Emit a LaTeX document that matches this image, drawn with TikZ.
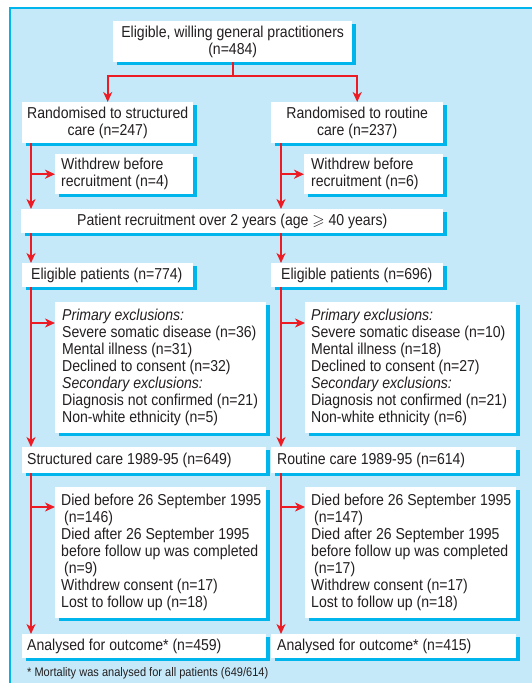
\documentclass[tikz,border=0pt]{standalone}
\usepackage{amssymb}
\usepackage{fontspec}
\setmainfont{Liberation Sans}[FakeStretch=0.89]
\usetikzlibrary{arrows.meta,shadows}
\definecolor{panelblue}{RGB}{198,233,249}
\definecolor{bmjcyan}{RGB}{0,181,236}
\definecolor{bmjred}{RGB}{237,28,36}
\definecolor{ink}{RGB}{35,31,32}

\begin{document}
\begin{tikzpicture}[x=1pt, y=-1pt,
    box/.style={fill=white, anchor=north west, inner sep=0pt,
      drop shadow={shadow xshift=4pt, shadow yshift=-3pt, fill=bmjcyan, opacity=1}},
    boxtext/.style={inner sep=0pt, text=ink, font=\fontsize{15.8}{17}\selectfont},
    flow/.style={draw=bmjred, line width=1.9pt, -{Stealth[length=10pt, width=9pt, inset=3pt]}}]
        \useasboundingbox (0,0) rectangle (532,683);

        % Background panel
        \fill[panelblue] (10,8) rectangle (532,683);
        \draw[bmjcyan, line width=1.5pt] (10,683) -- (10,8) -- (532,8);

        % Boxes (top-left corner, size in px)
        \node[box, minimum width=239pt, minimum height=41pt] (gp) at (113,21) {};
        \node[box, minimum width=171pt, minimum height=41pt] (rand_s) at (22,102) {};
        \node[box, minimum width=172pt, minimum height=41pt] (rand_r) at (271,102) {};
        \node[box, minimum width=138pt, minimum height=40pt] (wd_s) at (55,154) {};
        \node[box, minimum width=139pt, minimum height=40pt] (wd_r) at (304,154) {};
        \node[box, minimum width=422pt, minimum height=24pt] (recruit) at (21,209) {};
        \node[box, minimum width=171pt, minimum height=24pt] (elig_s) at (22,263) {};
        \node[box, minimum width=172pt, minimum height=24pt] (elig_r) at (271,263) {};
        \node[box, minimum width=211pt, minimum height=131pt] (excl_s) at (55,302) {};
        \node[box, minimum width=211pt, minimum height=131pt] (excl_r) at (305,302) {};
        \node[box, minimum width=244pt, minimum height=26pt] (care_s) at (22,447) {};
        \node[box, minimum width=245pt, minimum height=26pt] (care_r) at (271,447) {};
        \node[box, minimum width=211pt, minimum height=131pt] (died_s) at (55,487) {};
        \node[box, minimum width=211pt, minimum height=131pt] (died_r) at (305,487) {};
        \node[box, minimum width=244pt, minimum height=24pt] (out_s) at (22,634) {};
        \node[box, minimum width=245pt, minimum height=24pt] (out_r) at (271,634) {};

        % Texts
        \node[boxtext, align=center] (gp_txt) at (gp.center) {Eligible, willing general practitioners\\(n=484)};
        \node[boxtext, align=center] (rand_s_txt) at (rand_s.center) {Randomised to structured\\care (n=247)};
        \node[boxtext, align=center] (rand_r_txt) at (rand_r.center) {Randomised to routine\\care (n=237)};
        \node[boxtext, align=left, anchor=west] (wd_s_txt) at ([xshift=6pt]wd_s.west) {Withdrew before\\recruitment (n=4)};
        \node[boxtext, align=left, anchor=west] (wd_r_txt) at ([xshift=7pt]wd_r.west) {Withdrew before\\recruitment (n=6)};
        \node[boxtext] (recruit_txt) at (recruit.center) {Patient recruitment over 2 years (age $\geqslant$ 40 years)};
        \node[boxtext, anchor=west] (elig_s_txt) at ([xshift=9pt]elig_s.west) {Eligible patients (n=774)};
        \node[boxtext, anchor=west] (elig_r_txt) at ([xshift=10pt]elig_r.west) {Eligible patients (n=696)};
        \node[boxtext, align=left, anchor=west] (excl_s_txt) at ([xshift=7pt]excl_s.west)
          {\textit{Primary exclusions:}\\Severe somatic disease (n=36)\\Mental illness (n=31)\\Declined to consent (n=32)\\
           \textit{Secondary exclusions:}\\Diagnosis not confirmed (n=21)\\Non-white ethnicity (n=5)};
        \node[boxtext, align=left, anchor=west] (excl_r_txt) at ([xshift=6pt]excl_r.west)
          {\textit{Primary exclusions:}\\Severe somatic disease (n=10)\\Mental illness (n=18)\\Declined to consent (n=27)\\
           \textit{Secondary exclusions:}\\Diagnosis not confirmed (n=21)\\Non-white ethnicity (n=6)};
        \node[boxtext, anchor=west] (care_s_txt) at ([xshift=5pt]care_s.west) {Structured care 1989-95 (n=649)};
        \node[boxtext, anchor=west] (care_r_txt) at ([xshift=6pt]care_r.west) {Routine care 1989-95 (n=614)};
        \node[boxtext, align=left, anchor=west] (died_s_txt) at ([xshift=6pt]died_s.west)
          {Died before 26 September 1995\\\hspace*{3pt}(n=146)\\Died after 26 September 1995\\before follow up was completed\\
           \hspace*{3pt}(n=9)\\Withdrew consent (n=17)\\Lost to follow up (n=18)};
        \node[boxtext, align=left, anchor=west] (died_r_txt) at ([xshift=6pt]died_r.west)
          {Died before 26 September 1995\\\hspace*{3pt}(n=147)\\Died after 26 September 1995\\before follow up was completed\\
           \hspace*{3pt}(n=17)\\Withdrew consent (n=17)\\Lost to follow up (n=18)};
        \node[boxtext, anchor=west] (out_s_txt) at ([xshift=5pt]out_s.west) {Analysed for outcome* (n=459)};
        \node[boxtext, anchor=west] (out_r_txt) at ([xshift=6pt]out_r.west) {Analysed for outcome* (n=415)};
        \node[inner sep=0pt, anchor=west, text=ink, font=\fontsize{12.4}{14}\selectfont] (note) at (27,673)
          {* Mortality was analysed for all patients (649/614)};

        % Trunk lines of the two arms
        \coordinate (arm_s) at (31,0);
        \coordinate (arm_r) at (281,0);
        \coordinate (excl_s_in) at (31,323);
        \coordinate (excl_r_in) at (281,323);
        \coordinate (died_s_in) at (31,507);
        \coordinate (died_r_in) at (281,507);

        % Randomisation
        \draw[flow] (gp.south) -- ++(0,14) -| (rand_s.north);
        \draw[flow] (gp.south) -- ++(0,14) -| (rand_r.north);

        % Down each arm
        \draw[flow] (rand_s.south -| arm_s) -- (recruit.north -| arm_s);
        \draw[flow] (rand_r.south -| arm_r) -- (recruit.north -| arm_r);
        \draw[flow] (recruit.south -| arm_s) -- (elig_s.north -| arm_s);
        \draw[flow] (recruit.south -| arm_r) -- (elig_r.north -| arm_r);
        \draw[flow] (elig_s.south -| arm_s) -- (care_s.north -| arm_s);
        \draw[flow] (elig_r.south -| arm_r) -- (care_r.north -| arm_r);
        \draw[flow] (care_s.south -| arm_s) -- (out_s.north -| arm_s);
        \draw[flow] (care_r.south -| arm_r) -- (out_r.north -| arm_r);

        % Side branches
        \draw[flow] (wd_s.west -| arm_s) -- (wd_s.west);
        \draw[flow] (wd_r.west -| arm_r) -- (wd_r.west);
        \draw[flow] (excl_s_in) -- (excl_s_in -| excl_s.west);
        \draw[flow] (excl_r_in) -- (excl_r_in -| excl_r.west);
        \draw[flow] (died_s_in) -- (died_s_in -| died_s.west);
        \draw[flow] (died_r_in) -- (died_r_in -| died_r.west);
      \end{tikzpicture}
\end{document}
